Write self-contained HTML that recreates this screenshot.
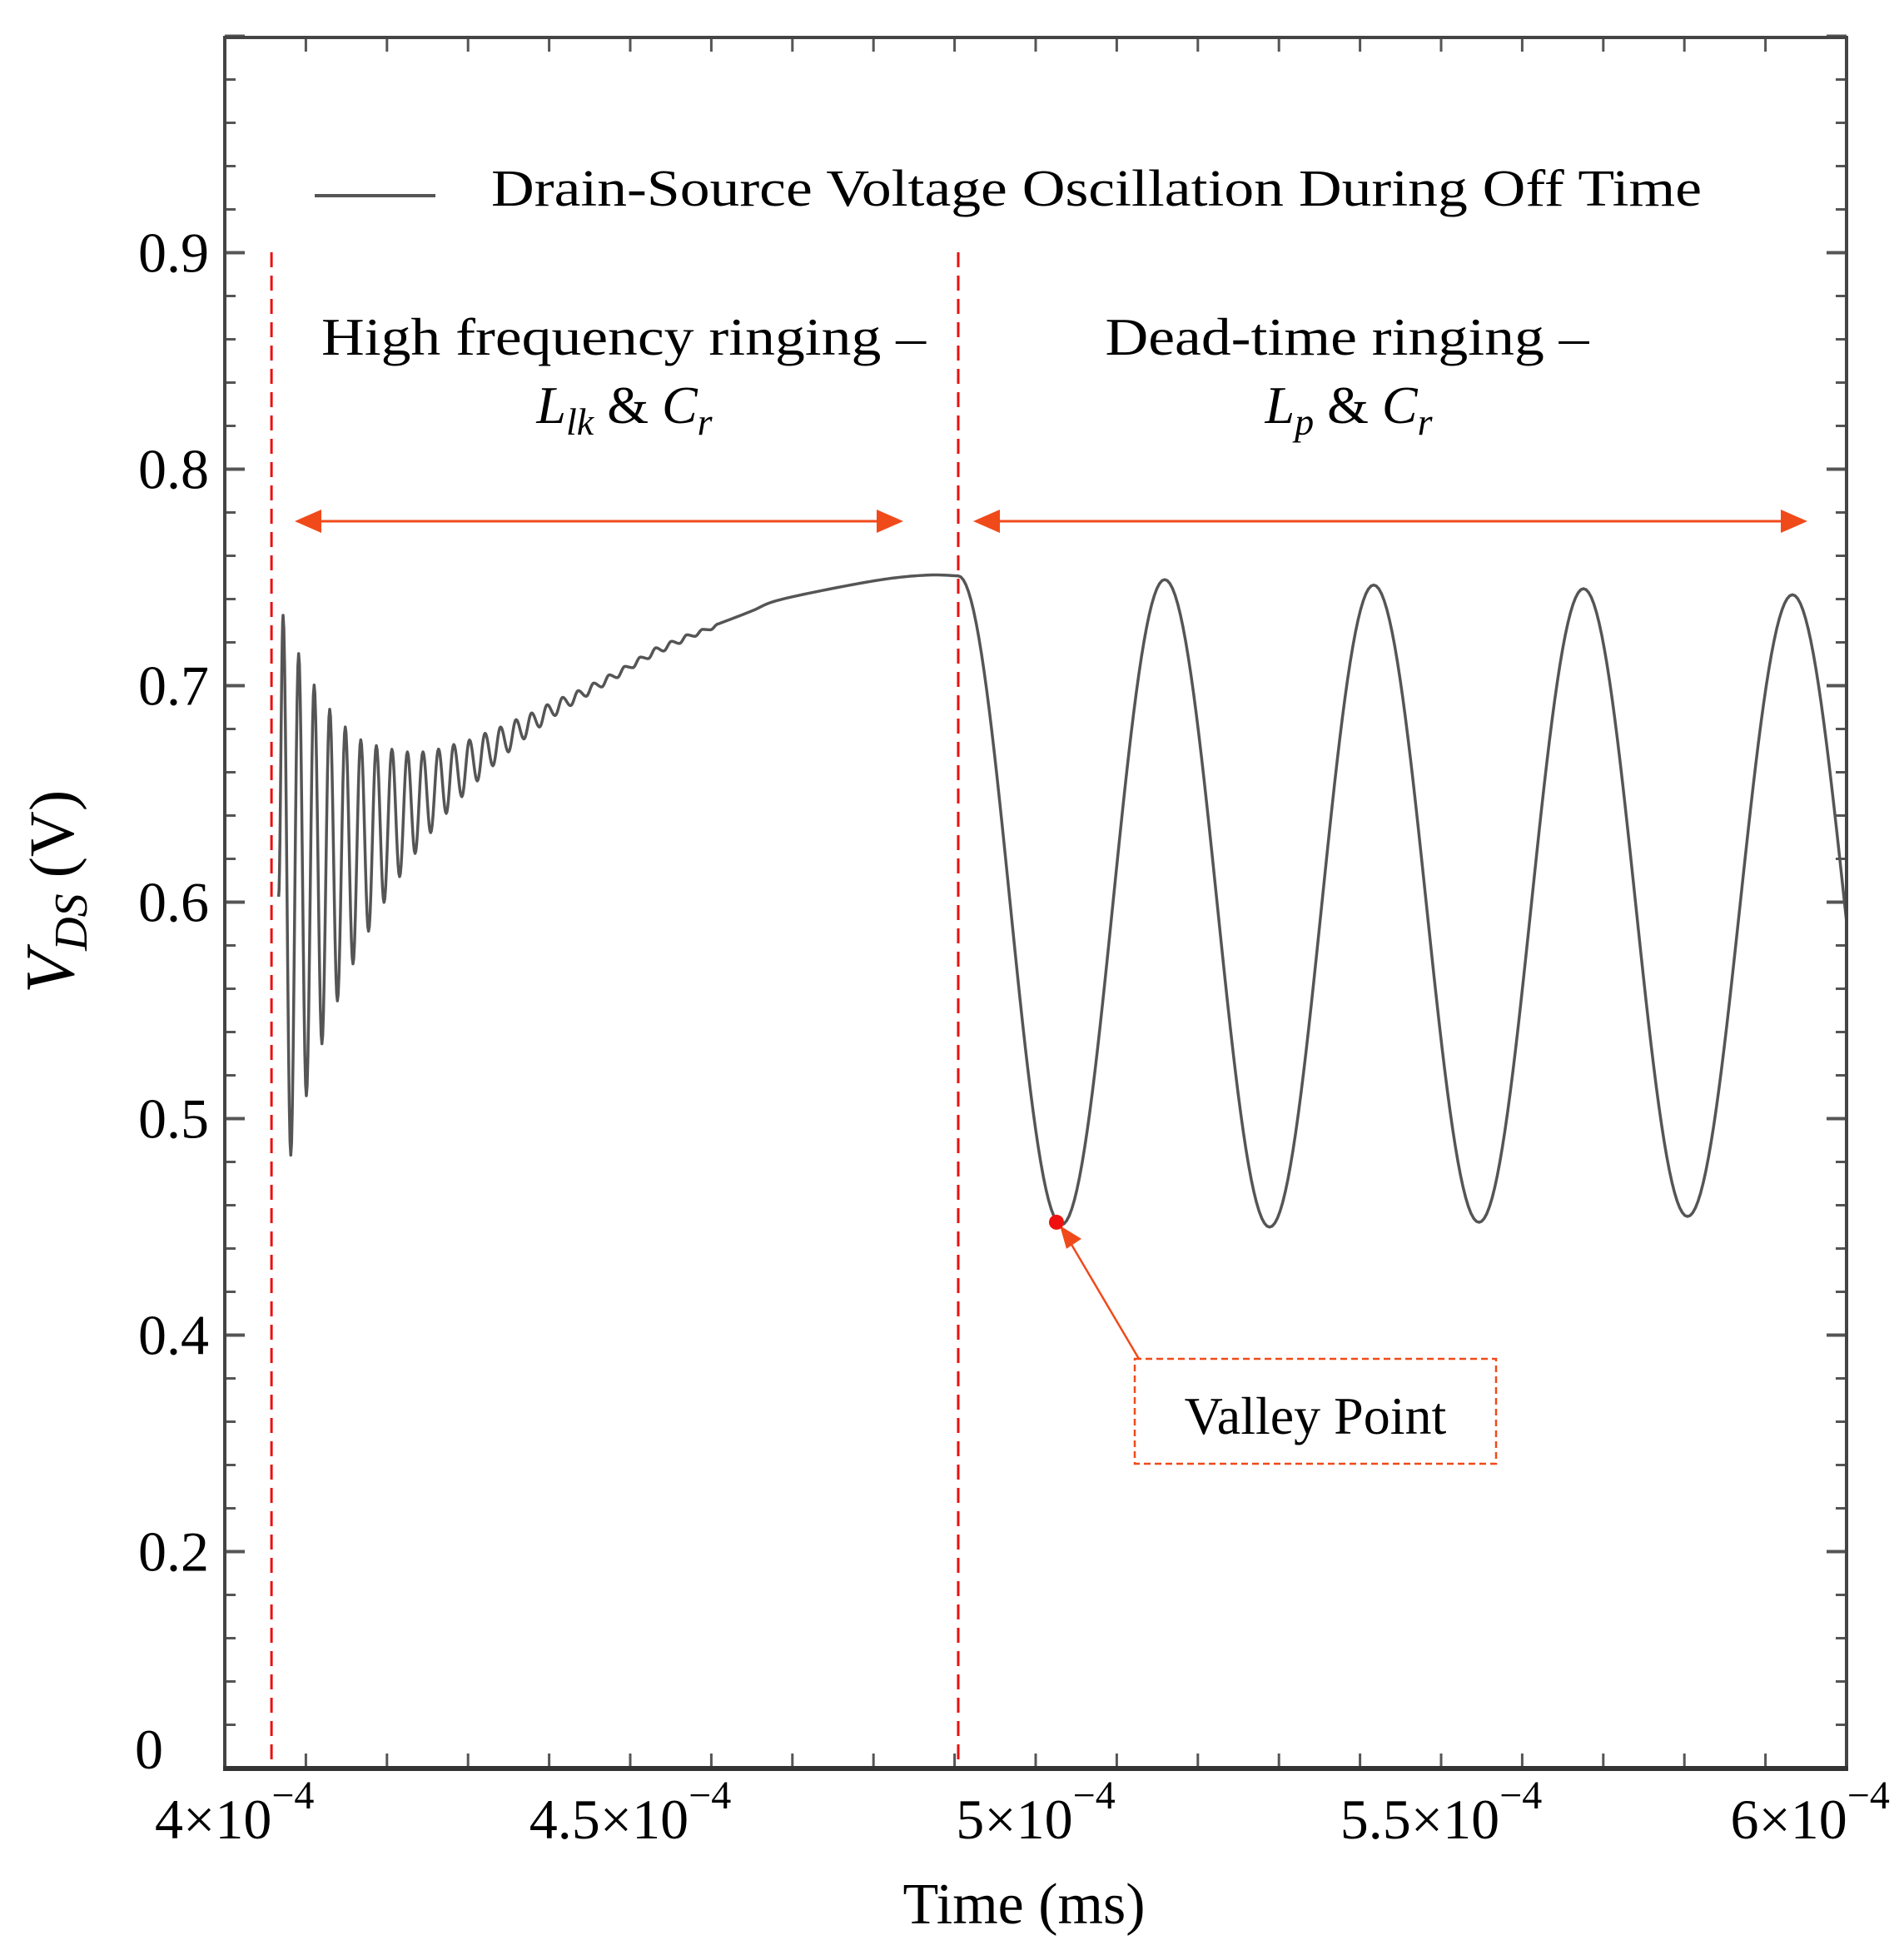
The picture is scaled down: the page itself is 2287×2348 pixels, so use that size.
<!DOCTYPE html>
<html><head><meta charset="utf-8"><style>
html,body{margin:0;padding:0;background:#fff;}
svg{display:block;font-family:"Liberation Serif",serif;}
</style></head><body>
<svg id="chart" width="2287" height="2348" viewBox="0 0 2287 2348" xmlns="http://www.w3.org/2000/svg">
<defs><clipPath id="plotclip"><rect x="270" y="45" width="1948" height="2079"/></clipPath></defs>
<rect x="0" y="0" width="2287" height="2348" fill="#fff"/>
<g id="ticks"></g>
<g id="ylabels" font-size="68" fill="#000" text-anchor="end"></g>
<g id="xlabels" font-size="68" fill="#000" text-anchor="middle"></g>
<g id="vlines"></g>
<g clip-path="url(#plotclip)"><path id="curve" fill="none" stroke="#555" stroke-width="3.5" stroke-linejoin="round"/></g>
<rect x="270" y="45" width="1948" height="2079" fill="none" stroke="#444" stroke-width="4"/>
<line x1="268" y1="2124" x2="2220" y2="2124" stroke="#333" stroke-width="6"/>

<g>
<line x1="378" y1="235" x2="523" y2="235" stroke="#555" stroke-width="4"/>
<text x="590" y="247" font-size="62" textLength="1454" lengthAdjust="spacingAndGlyphs">Drain-Source Voltage Oscillation During Off Time</text>
</g>

<text x="749" y="426" font-size="64" text-anchor="middle" textLength="726" lengthAdjust="spacingAndGlyphs">High frequency ringing –</text>
<text x="750" y="508" font-size="64" text-anchor="middle"><tspan font-style="italic">L</tspan><tspan font-style="italic" font-size="46" dy="14">lk</tspan><tspan dy="-14"> &amp; </tspan><tspan font-style="italic">C</tspan><tspan font-style="italic" font-size="46" dy="14">r</tspan></text>
<text x="1618" y="426" font-size="64" text-anchor="middle" textLength="581" lengthAdjust="spacingAndGlyphs">Dead-time ringing –</text>
<text x="1620" y="508" font-size="64" text-anchor="middle"><tspan font-style="italic">L</tspan><tspan font-style="italic" font-size="46" dy="14">p</tspan><tspan dy="-14"> &amp; </tspan><tspan font-style="italic">C</tspan><tspan font-style="italic" font-size="46" dy="14">r</tspan></text>

<g fill="#f04a1a">
<line x1="375" y1="626" x2="1060" y2="626" stroke="#f04a1a" stroke-width="3"/>
<polygon points="354,626 386,612 386,640"/>
<polygon points="1085,626 1053,612 1053,640"/>
</g>
<g fill="#f04a1a">
<line x1="1190" y1="626" x2="2150" y2="626" stroke="#f04a1a" stroke-width="3"/>
<polygon points="1169,626 1201,612 1201,640"/>
<polygon points="2171,626 2139,612 2139,640"/>
</g>

<g id="valley"></g>
<rect x="1363" y="1632" width="434" height="126" fill="none" stroke="#f04a1a" stroke-width="2.5" stroke-dasharray="8 5"/>
<text x="1580" y="1722" font-size="64" text-anchor="middle">Valley Point</text>

<text x="1230" y="2310" font-size="70" text-anchor="middle">Time (ms)</text>
<text transform="translate(88,1071) rotate(-90)" font-size="76" text-anchor="middle"><tspan font-style="italic" font-size="84">V</tspan><tspan font-style="italic" font-size="56" dy="16">DS</tspan><tspan dy="-16">  (V)</tspan></text>
</svg>
<script>
// data in units: time ×1e-4 ms, voltage V
const ringTimes=[4.0664,4.0719,4.0814,4.0911,4.1006,4.1102,4.1198,4.1294,4.1389,4.1486,4.1581,4.1677,4.1773,4.1869,4.1964,4.2061,4.2156,4.2252,4.2347,4.2444,4.2539,4.2636,4.2731,4.2824,4.2923,4.3018,4.3114,4.3210,4.3306,4.3401,4.3498,4.3593,4.3689,4.3785,4.3881,4.3977,4.4073,4.4168,4.4264,4.4360,4.4456,4.4551,4.4648,4.4743,4.4839,4.4935,4.5031,4.5126,4.5222,4.5318,4.5411,4.5510,4.5606,4.5701,4.5798,4.5893,4.5989,4.6085];
const ringValues=[0.6025,0.7325,0.4831,0.7148,0.5106,0.7003,0.5346,0.6891,0.5544,0.6809,0.5715,0.675,0.5866,0.6723,0.5999,0.6706,0.6118,0.6694,0.6225,0.6694,0.6321,0.6707,0.641,0.6728,0.6487,0.6749,0.656,0.678,0.663,0.6809,0.6694,0.6843,0.6754,0.6874,0.6809,0.6912,0.6862,0.6946,0.6908,0.6977,0.6951,0.7012,0.6994,0.705,0.7037,0.7089,0.7083,0.7132,0.7125,0.7175,0.716,0.7205,0.7195,0.7235,0.7228,0.726,0.7258,0.7285];
const trendTimes=[4.6085,4.65,4.68,4.7495,4.818,4.869,4.9045];
const trendValues=[0.7285,0.7345,0.7392,0.7449,0.7494,0.7511,0.7507];
const deadTimes=[4.9045,5.0318,5.1591,5.2885,5.4168,5.5467,5.6756,5.8039,5.9333,6.0618];
const deadValues=[0.7507,0.451,0.749,0.4499,0.7465,0.4521,0.7448,0.4548,0.742,0.457];
const yTickValues=[0.9,0.8,0.7,0.6,0.5,0.4,0.3];
const yTickLabels=["0.9","0.8","0.7","0.6","0.5","0.4","0.2"];
const xTickValues=[4.012,4.5,5.0,5.5,5.955];
const xTickLabels=["4","4.5","5","5.5","6"];
const dividerTimes=[4.0576,4.9045];
const valleyTime=5.0318, valleyValue=0.451;

const X0=270,X1=2218,T0=4,T1=6;
const xs=t=>X0+(t-T0)/(T1-T0)*(X1-X0);
const ys=v=>303.5+(0.9-v)*2600;
const NS="http://www.w3.org/2000/svg";
function mk(tag,attrs,parent){const e=document.createElementNS(NS,tag);for(const k in attrs)e.setAttribute(k,attrs[k]);parent.appendChild(e);return e;}

let d="";
function cosSeg(ta,va,tb,vb,n){for(let i=1;i<=n;i++){const f=i/n;const e=(1-Math.cos(Math.PI*f))/2;d+=" L"+xs(ta+(tb-ta)*f).toFixed(2)+","+ys(va+(vb-va)*e).toFixed(2);}}
d="M"+xs(ringTimes[0]).toFixed(2)+","+ys(ringValues[0]).toFixed(2);
for(let i=1;i<ringTimes.length;i++)cosSeg(ringTimes[i-1],ringValues[i-1],ringTimes[i],ringValues[i],10);
for(let i=1;i<trendTimes.length;i++){
  const p0=i>1?i-2:i-1,p3=i<trendTimes.length-1?i+1:i;
  for(let k=1;k<=12;k++){const s=k/12,s2=s*s,s3=s2*s;
    const cr=(a,b,c,e)=>0.5*((2*b)+(-a+c)*s+(2*a-5*b+4*c-e)*s2+(-a+3*b-3*c+e)*s3);
    d+=" L"+xs(cr(trendTimes[p0],trendTimes[i-1],trendTimes[i],trendTimes[p3])).toFixed(2)+","+ys(cr(trendValues[p0],trendValues[i-1],trendValues[i],trendValues[p3])).toFixed(2);}
}
for(let i=1;i<deadTimes.length;i++)cosSeg(deadTimes[i-1],deadValues[i-1],deadTimes[i],deadValues[i],40);
document.getElementById('curve').setAttribute('d',d);

const tg=document.getElementById('ticks');
for(let k=0;k<21;k++){const x=X0+k*97.4;
  const a=mk('line',{x1:x,y1:45,x2:x,y2:62,stroke:'#555','stroke-width':3},tg);
  
  
  const b=mk('line',{x1:x,y1:2124,x2:x,y2:2106,stroke:'#555','stroke-width':3},tg);
  
  
}
for(let k=0;k<=40;k++){const y=43.5+k*52;const major=((k-5)%5===0);const L=major?24:13;
  const a=mk('line',{x1:270,y1:y,x2:270+L,y2:y,stroke:'#555','stroke-width':major?4:3},tg);
  
  
  const b=mk('line',{x1:2218,y1:y,x2:2218-L,y2:y,stroke:'#555','stroke-width':major?4:3},tg);
  
  
}
const yl=document.getElementById('ylabels');
yTickValues.forEach((v,i)=>{const t=mk('text',{x:251,y:ys(v)+23},yl);t.textContent=yTickLabels[i];
  
  });
const z=mk('text',{x:196,y:2124},yl);z.textContent="0";


const xl=document.getElementById('xlabels');
xTickValues.forEach((v,i)=>{const t=mk('text',{x:xs(v),y:2208},xl);
  
  
  const a=document.createElementNS(NS,'tspan');a.textContent=xTickLabels[i]+"×10";t.appendChild(a);
  const b=document.createElementNS(NS,'tspan');b.setAttribute('dy','-36');b.setAttribute('font-size','48');b.textContent="−4";t.appendChild(b);});
const vg=document.getElementById('vlines');
dividerTimes.forEach(t=>{const l=mk('line',{x1:xs(t),y1:303,x2:xs(t),y2:2122,stroke:'#e81010','stroke-width':3,'stroke-dasharray':'18 10'},vg);
  
  });
const vv=document.getElementById('valley');
const vx=xs(valleyTime)-6,vy=ys(valleyValue)-3;
const al=mk('line',{x1:1368,y1:1632,x2:vx+14,y2:vy+20,stroke:'#f04a1a','stroke-width':2.5},vv);


const ah=mk('polygon',{points:`${vx+4},${vy+4} ${vx+30},${vy+20} ${vx+12},${vy+32}`,fill:'#f04a1a'},vv);


const dot=mk('circle',{cx:vx,cy:vy,r:9,fill:'#f01010'},vv);


</script>
</body></html>
